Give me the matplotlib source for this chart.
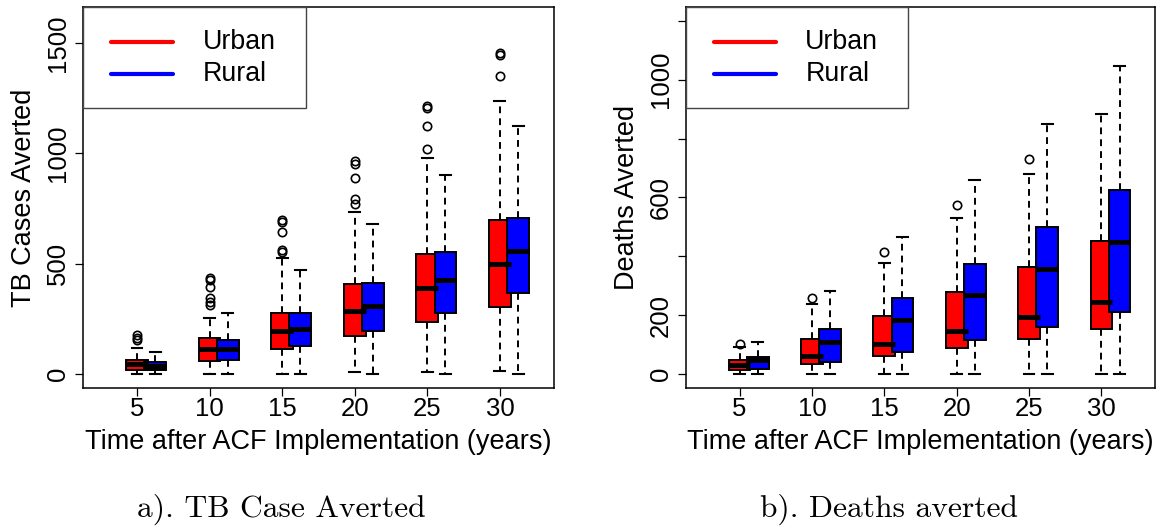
import numpy as np
import matplotlib.pyplot as plt
from matplotlib.patches import Rectangle

plt.rcParams['font.family'] = ['Liberation Sans', 'DejaVu Sans']

years = [5, 10, 15, 20, 25, 30]

# TB cases averted (five-number summaries + outliers)
urban_cases_lo = [0, 0, 0, 8, 11, 14]
urban_cases_q1 = [21, 60, 112, 172, 237, 305]
urban_cases_med = [44, 112, 195, 287, 389, 499]
urban_cases_q3 = [63, 162, 278, 407, 544, 696]
urban_cases_hi = [120, 256, 525, 733, 981, 1235]
urban_cases_out = [[154, 166, 177], [313, 328, 343, 396, 427, 434],
                   [552, 562, 643, 691, 699], [771, 794, 888, 953, 963],
                   [1019, 1125, 1205, 1216], [1349, 1443, 1455]]

rural_cases_lo = [0, 0, 0, 0, 0, 0]
rural_cases_q1 = [21, 66, 127, 195, 275, 366]
rural_cases_med = [38, 115, 203, 308, 426, 558]
rural_cases_q3 = [56, 154, 278, 411, 555, 706]
rural_cases_hi = [101, 275, 472, 680, 903, 1125]
rural_cases_out = [[], [], [], [], [], []]

# deaths averted
urban_deaths_lo = [0, 0, 0, 0, 0, 0]
urban_deaths_q1 = [14, 36, 62, 90, 121, 153]
urban_deaths_med = [31, 61, 102, 145, 193, 244]
urban_deaths_q3 = [48, 118, 196, 278, 365, 451]
urban_deaths_hi = [93, 237, 379, 529, 681, 882]
urban_deaths_out = [[102], [257], [414], [573], [730], []]

rural_deaths_lo = [0, 0, 0, 0, 0, 0]
rural_deaths_q1 = [16, 42, 76, 116, 161, 210]
rural_deaths_med = [48, 108, 184, 268, 356, 450]
rural_deaths_q3 = [59, 153, 260, 375, 499, 625]
rural_deaths_hi = [108, 282, 466, 658, 850, 1045]
rural_deaths_out = [[], [], [], [], [], []]

cases_ticks = [0, 500, 1000, 1500]
cases_labels = ['0', '500', '1000', '1500']
deaths_ticks = [0, 200, 400, 600, 800, 1000, 1200]
deaths_labels = ['0', '200', '', '600', '', '1000', '']

xlab = 'Time after ACF Implementation (years)'


def make_stats(lo, q1, med, q3, hi, out):
    return [dict(whislo=a, q1=b, med=c, q3=d, whishi=e, fliers=f)
            for a, b, c, d, e, f in zip(lo, q1, med, q3, hi, out)]


def draw_boxes(ax, stats, col, shift):
    ax.bxp(stats, positions=[y + shift for y in years], widths=1.5, capwidths=0.75,
           patch_artist=True, manage_ticks=False,
           boxprops=dict(facecolor=col, edgecolor='black', linewidth=1.4),
           medianprops=dict(color='black', linewidth=3.6, solid_capstyle='butt'),
           whiskerprops=dict(color='black', linewidth=1.4, linestyle=(0, (3.5, 2.6))),
           capprops=dict(color='black', linewidth=1.5),
           flierprops=dict(marker='o', markerfacecolor='none', markeredgecolor='black',
                           markersize=6, markeredgewidth=1.2))


def draw_legend(ax):
    ax.add_patch(Rectangle((0, 0.7353), 0.4735, 0.2647, transform=ax.transAxes,
                           facecolor='white', edgecolor='#444444', linewidth=1.0, zorder=5))
    for yy, col, name in ((0.9083, 'red', 'Urban'), (0.8236, 'blue', 'Rural')):
        ax.plot([0.059, 0.191], [yy, yy], color=col, linewidth=3, transform=ax.transAxes,
                zorder=6, solid_capstyle='round')
        ax.text(0.2545, yy, name, transform=ax.transAxes, fontsize=19.3,
                va='center', ha='left', zorder=6)


def panel(ax, urban, rural, ylim, yticks, ylabels, ylab):
    draw_boxes(ax, urban, 'red', 0.0)
    draw_boxes(ax, rural, 'blue', 1.25)
    ax.set_xlim(1.3, 33.7)
    ax.set_ylim(*ylim)
    ax.set_xticks(years)
    ax.set_xticklabels([str(y) for y in years])
    ax.set_yticks(yticks)
    ax.set_yticklabels(ylabels)
    ax.tick_params(length=6, width=0.9, labelsize=18.5)
    ax.tick_params(axis='x', pad=0.5)
    ax.tick_params(axis='y', pad=3.3)
    for lbl in ax.get_yticklabels():
        lbl.set_rotation(90)
        lbl.set_va('center')
    for s in ax.spines.values():
        s.set_linewidth(1.1)
    ax.set_xlabel(xlab, fontsize=19.5)
    ax.xaxis.set_label_coords(0.5, -0.1067)
    ax.set_ylabel(ylab, fontsize=19.5)
    ax.yaxis.set_label_coords(-0.0976, 0.5)
    draw_legend(ax)


fig = plt.figure(figsize=(11.58, 5.27), dpi=100)
ax1 = fig.add_axes([0.0719, 0.2632, 0.4062, 0.7241])
ax2 = fig.add_axes([0.5924, 0.2632, 0.4050, 0.7241])

panel(ax1,
      make_stats(urban_cases_lo, urban_cases_q1, urban_cases_med, urban_cases_q3,
                 urban_cases_hi, urban_cases_out),
      make_stats(rural_cases_lo, rural_cases_q1, rural_cases_med, rural_cases_q3,
                 rural_cases_hi, rural_cases_out),
      (-64, 1664), cases_ticks, cases_labels, 'TB Cases Averted')

panel(ax2,
      make_stats(urban_deaths_lo, urban_deaths_q1, urban_deaths_med, urban_deaths_q3,
                 urban_deaths_hi, urban_deaths_out),
      make_stats(rural_deaths_lo, rural_deaths_q1, rural_deaths_med, rural_deaths_q3,
                 rural_deaths_hi, rural_deaths_out),
      (-48, 1248), deaths_ticks, deaths_labels, 'Deaths Averted')

fig.text(0.2425, 0.0196, 'a). TB Case Averted', family='cmr10', fontsize=22.7,
         ha='center', va='baseline')
fig.text(0.7677, 0.0196, 'b). Deaths averted', family='cmr10', fontsize=22.7,
         ha='center', va='baseline')

fig.savefig('out.png', dpi=100)
